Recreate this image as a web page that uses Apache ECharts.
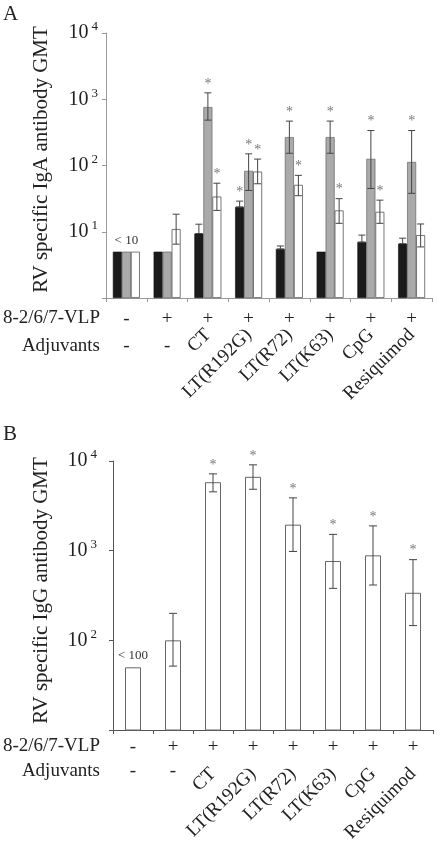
<!DOCTYPE html>
<html>
<head>
<meta charset="utf-8">
<script src="https://cdn.jsdelivr.net/npm/echarts@6/dist/echarts.min.js"></script>
<style>
html,body{margin:0;padding:0;background:#fff;}
#chart{width:437px;height:848px;}
</style>
</head>
<body>
<div id="chart"></div>
<script>
// ---------- data ----------
var categories = ['None', 'VLP', 'CT', 'LT(R192G)', 'LT(R72)', 'LT(K63)', 'CpG', 'Resiquimod'];
var vlpRow = ['-', '+', '+', '+', '+', '+', '+', '+'];
var adjDashRow = ['-', '-', '', '', '', '', '', ''];
var adjNames = ['', '', 'CT', 'LT(R192G)', 'LT(R72)', 'LT(K63)', 'CpG', 'Resiquimod'];

// Panel A: IgA GMT (three bars per group: black, gray, white)
var igaBlack   = [5, 5, 9.4, 23.7, 5.5, 5, 7.0, 6.6];
var igaBlackHi = [null, null, 13, 29, 6.1, null, 8.9, 8.0];
var igaBlackLo = [null, null, 9.4, 23.7, 5.5, null, 7.0, 6.6];
var igaBlackStar = [0, 0, 0, 1, 0, 0, 0, 0];

var igaGray   = [5, 5, 760, 83, 268, 268, 126, 113];
var igaGrayHi = [null, null, 1250, 150, 468, 468, 337, 337];
var igaGrayLo = [null, null, 484, 42, 153, 153, 45, 38];
var igaGrayStar = [0, 0, 1, 1, 1, 1, 1, 1];

var igaWhite   = [5, 11, 34, 81, 51, 21, 20, 8.9];
var igaWhiteHi = [null, 18.4, 54, 125, 71, 31.6, 30, 13.1];
var igaWhiteLo = [null, 6.5, 21, 53, 35, 13.4, 13.4, 5.9];
var igaWhiteStar = [0, 0, 1, 1, 1, 1, 1, 0];

var igaNote = ['< 10', '', '', '', '', '', '', ''];

// Panel B: IgG GMT
var iggVal = [50, 100, 5800, 6660, 1950, 767, 887, 339];
var iggHi  = [null, 200, 7190, 9060, 3880, 1520, 1890, 794];
var iggLo  = [null, 51.6, 4530, 4840, 980, 380, 414, 146];
var iggStar = [0, 0, 1, 1, 1, 1, 1, 1];
var iggNote = ['< 100', '', '', '', '', '', '', ''];

// ---------- chart ----------
var FONT = "'Liberation Serif', 'DejaVu Serif', serif";
var chart = echarts.init(document.getElementById('chart'), null, {renderer: 'canvas'});

function powLabel(minVal) {
  return function (v) {
    if (v <= minVal) return '';
    var e = Math.round(Math.log(v) / Math.LN10);
    return '{b|10}{s|' + e + '}';
  };
}
var powRich = {
  b: {fontFamily: FONT, fontSize: 20, color: '#222'},
  s: {fontFamily: FONT, fontSize: 13, color: '#222', padding: [0, 0, 12, 3]}
};

function errData(hi, lo, star) {
  var out = [];
  for (var i = 0; i < hi.length; i++) {
    if (hi[i] == null) continue;
    out.push([i, lo[i], hi[i], star[i]]);
  }
  return out;
}

function errSeries(xi, yi, data, offset, cap, color) {
  return {
    type: 'custom',
    xAxisIndex: xi, yAxisIndex: yi,
    data: data,
    encode: {x: 0, y: [1, 2]},
    z: 5,
    silent: true,
    renderItem: function (params, api) {
      var i = api.value(0), lo = api.value(1), hi = api.value(2), st = api.value(3);
      var pt = api.coord([i, hi]);
      var pb = api.coord([i, lo]);
      var x = pt[0] + offset;
      var ch = [
        {type: 'line', shape: {x1: x, y1: pb[1], x2: x, y2: pt[1]}, style: {stroke: color, lineWidth: 1}},
        {type: 'line', shape: {x1: x - cap, y1: pt[1], x2: x + cap, y2: pt[1]}, style: {stroke: color, lineWidth: 1}}
      ];
      if (pb[1] - pt[1] > 0) {
        ch.push({type: 'line', shape: {x1: x - cap, y1: pb[1], x2: x + cap, y2: pb[1]}, style: {stroke: color, lineWidth: 1}});
      }
      if (st) {
        ch.push({type: 'text', style: {text: '*', x: x, y: pt[1] - 2, align: 'center', verticalAlign: 'bottom',
          font: '14px ' + FONT, fill: '#777'}});
      }
      return {type: 'group', children: ch};
    }
  };
}

var xAxisBase = function (gi, color, margin) {
  return {
    type: 'category', gridIndex: gi, data: categories, position: 'bottom',
    axisLine: {show: true, lineStyle: {color: color, width: 1}},
    axisTick: {show: true, length: 4, lineStyle: {color: color}},
    axisLabel: {interval: 0, margin: margin, fontFamily: FONT, fontSize: 19, color: '#222',
      formatter: function (v, idx) { return vlpRow[idx]; }},
    splitLine: {show: false}
  };
};
var xAxisDash = function (gi, offset) {
  return {
    type: 'category', gridIndex: gi, data: categories, position: 'bottom', offset: offset,
    axisLine: {show: false}, axisTick: {show: false},
    axisLabel: {interval: 0, margin: 0, fontFamily: FONT, fontSize: 19, color: '#222',
      formatter: function (v, idx) { return adjDashRow[idx]; }},
    splitLine: {show: false}
  };
};
var xAxisRot = function (gi, offset) {
  return {
    type: 'category', gridIndex: gi, data: categories, position: 'bottom', offset: offset,
    axisLine: {show: false}, axisTick: {show: false},
    axisLabel: {interval: 0, rotate: 45, margin: 0, fontFamily: FONT, fontSize: 19, color: '#222',
      formatter: function (v, idx) { return adjNames[idx]; }},
    splitLine: {show: false}
  };
};

var option = {
  animation: false,
  backgroundColor: '#fff',
  grid: [
    {left: 106, right: 5, top: 33, height: 265, containLabel: false, outerBoundsMode: 'none'},
    {left: 113, right: 4, top: 461, height: 269, containLabel: false, outerBoundsMode: 'none'}
  ],
  xAxis: [
    xAxisBase(0, '#999', 12),
    xAxisDash(0, 39),
    xAxisRot(0, 34),
    xAxisBase(1, '#555', 8),
    xAxisDash(1, 32),
    xAxisRot(1, 41)
  ],
  yAxis: [
    {type: 'log', logBase: 10, gridIndex: 0, min: 1, max: 10000,
      name: 'RV specific IgA antibody GMT', nameLocation: 'middle', nameGap: 54,
      nameTextStyle: {fontFamily: FONT, fontSize: 21, color: '#222', padding: [0, 0, 0, 12]},
      axisLine: {show: true, lineStyle: {color: '#999'}},
      axisTick: {show: true, length: 4, lineStyle: {color: '#999'}},
      axisLabel: {margin: 8, formatter: powLabel(1), rich: powRich},
      splitLine: {show: false}, minorTick: {show: false}},
    {type: 'log', logBase: 10, gridIndex: 1, min: 10, max: 10000,
      name: 'RV specific IgG antibody GMT', nameLocation: 'middle', nameGap: 61,
      nameTextStyle: {fontFamily: FONT, fontSize: 21, color: '#222', padding: [0, 0, 0, 10]},
      axisLine: {show: true, lineStyle: {color: '#555'}},
      axisTick: {show: true, length: 4, lineStyle: {color: '#555'}},
      axisLabel: {margin: 16, formatter: powLabel(10), rich: powRich},
      splitLine: {show: false}, minorTick: {show: false}}
  ],
  graphic: [
    {type: 'text', left: 3, top: 4, style: {text: 'A', font: '21px ' + FONT, fill: '#222'}},
    {type: 'text', left: 3, top: 424, style: {text: 'B', font: '21px ' + FONT, fill: '#222'}},
    {type: 'text', right: 337, top: 309, style: {text: '8-2/6/7-VLP', font: '19px ' + FONT, fill: '#222', align: 'right'}},
    {type: 'text', right: 337, top: 337, style: {text: 'Adjuvants', font: '19px ' + FONT, fill: '#222', align: 'right'}},
    {type: 'text', right: 337, top: 737, style: {text: '8-2/6/7-VLP', font: '19px ' + FONT, fill: '#222', align: 'right'}},
    {type: 'text', right: 337, top: 762, style: {text: 'Adjuvants', font: '19px ' + FONT, fill: '#222', align: 'right'}}
  ],
  series: [
    {type: 'bar', name: 'IgA black', xAxisIndex: 0, yAxisIndex: 0, data: igaBlack,
      barWidth: 9, barGap: '0%',
      itemStyle: {color: '#1b1b1b', borderColor: '#111', borderWidth: 0.6}},
    {type: 'bar', name: 'IgA gray', xAxisIndex: 0, yAxisIndex: 0, data: igaGray,
      barWidth: 9, barGap: '0%',
      itemStyle: {color: '#aaaaaa', borderColor: '#555', borderWidth: 0.6},
      label: {show: true, position: 'top', distance: 5, fontFamily: FONT, fontSize: 13, color: '#333',
        formatter: function (p) { return igaNote[p.dataIndex]; }}},
    {type: 'bar', name: 'IgA white', xAxisIndex: 0, yAxisIndex: 0, data: igaWhite,
      barWidth: 9, barGap: '0%',
      itemStyle: {color: '#ffffff', borderColor: '#555', borderWidth: 0.8}},
    errSeries(0, 0, errData(igaBlackHi, igaBlackLo, igaBlackStar), -9, 3.5, '#444'),
    errSeries(0, 0, errData(igaGrayHi, igaGrayLo, igaGrayStar), 0, 3.5, '#444'),
    errSeries(0, 0, errData(igaWhiteHi, igaWhiteLo, igaWhiteStar), 9, 3.5, '#444'),

    {type: 'bar', name: 'IgG', xAxisIndex: 3, yAxisIndex: 1, data: iggVal,
      barWidth: 16,
      itemStyle: {color: '#ffffff', borderColor: '#666', borderWidth: 1},
      label: {show: true, position: 'top', distance: 5, fontFamily: FONT, fontSize: 13, color: '#333',
        formatter: function (p) { return iggNote[p.dataIndex]; }}},
    errSeries(3, 1, errData(iggHi, iggLo, iggStar), 0, 4, '#444')
  ]
};
chart.setOption(option);
</script>
</body>
</html>
